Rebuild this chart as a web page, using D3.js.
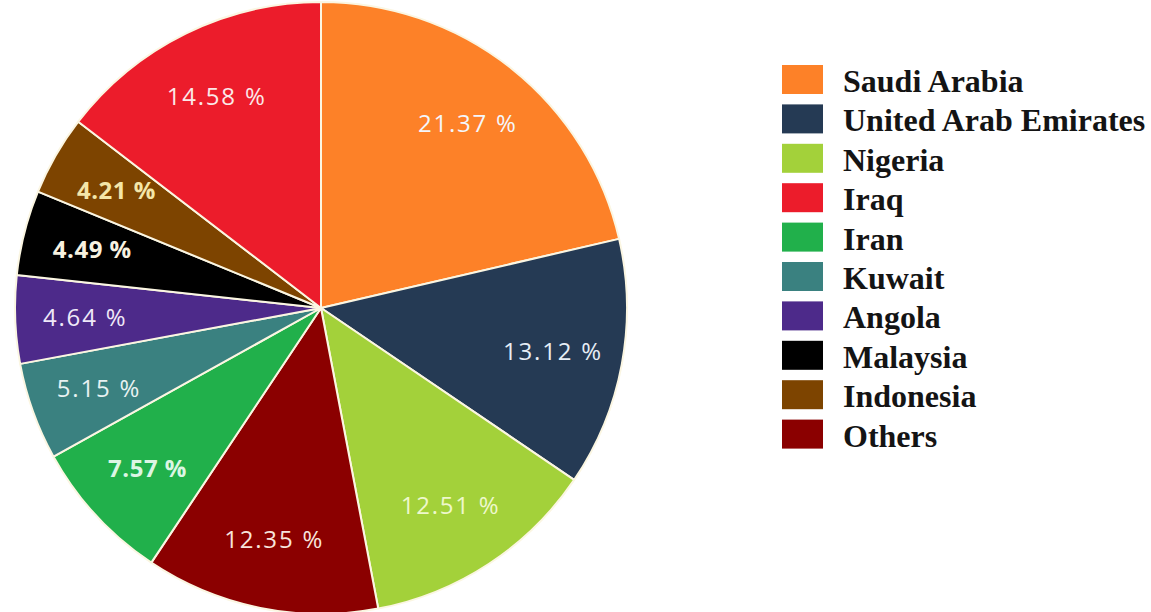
<!DOCTYPE html>
<html>
<head>
<meta charset="utf-8">
<script src="https://cdn.jsdelivr.net/npm/d3@7/dist/d3.min.js"></script>
<style>
  html, body { margin: 0; padding: 0; background: #ffffff; }
  svg { display: block; }
</style>
</head>
<body>
<svg id="chart" width="1151" height="612"></svg>
<script>
// Slices in clockwise order starting at 12 o'clock
const sliceNames = ["Saudi Arabia", "United Arab Emirates", "Nigeria", "Others", "Iran",
                    "Kuwait", "Angola", "Malaysia", "Indonesia", "Iraq"];
const sliceValues = [21.37, 13.12, 12.51, 12.35, 7.57, 5.15, 4.64, 4.49, 4.21, 14.58];

// Legend order
const legendNames = ["Saudi Arabia", "United Arab Emirates", "Nigeria", "Iraq", "Iran",
                     "Kuwait", "Angola", "Malaysia", "Indonesia", "Others"];

const colorRange = ["#fd8128", "#253a54", "#a3d13a", "#ec1c2b", "#21b04b",
                    "#3a8180", "#4d2a8a", "#000000", "#7d4400", "#8b0000"];

const color = d3.scaleOrdinal().domain(legendNames).range(colorRange);

// label tint / weight per slice
const labelFill = {
  "Saudi Arabia": "#f4f6fb", "United Arab Emirates": "#e6edf5", "Nigeria": "#eef8cc",
  "Others": "#f8e4dc", "Iran": "#dcf6e4", "Kuwait": "#e8f2f2", "Angola": "#efe8f8",
  "Malaysia": "#f8f2e0", "Indonesia": "#f4e6a8", "Iraq": "#fbe8e8"
};
const boldLabels = new Set(["Iran", "Malaysia", "Indonesia"]);

const svg = d3.select("#chart");
const cx = 321, cy = 308, R = 306;

const slices = sliceNames.map((n, i) => ({ name: n, value: sliceValues[i] }));

const pie = d3.pie().value(d => d.value).sort(null);
const arc = d3.arc().innerRadius(0).outerRadius(R);
const labelArc = d3.arc().innerRadius(236).outerRadius(236);

const g = svg.append("g").attr("transform", `translate(${cx},${cy})`);
const arcs = pie(slices);

g.selectAll("path.slice")
  .data(arcs)
  .join("path")
  .attr("class", "slice")
  .attr("d", arc)
  .attr("fill", d => color(d.data.name))
  .attr("stroke", "#fbf6e2")
  .attr("stroke-width", 2)
  .attr("stroke-linejoin", "round");

g.selectAll("text.pct")
  .data(arcs)
  .join("text")
  .attr("class", "pct")
  .attr("transform", d => `translate(${labelArc.centroid(d)})`)
  .attr("text-anchor", "middle")
  .attr("dy", "0.36em")
  .attr("font-family", "'Open Sans', 'Noto Sans', sans-serif")
  .attr("font-size", 24)
  .attr("letter-spacing", d => boldLabels.has(d.data.name) ? 0.5 : 1.8)
  .attr("font-weight", d => boldLabels.has(d.data.name) ? 700 : 400)
  .attr("fill", d => labelFill[d.data.name])
  .text(d => d3.format(".2f")(d.data.value) + " %");

// Legend
const legend = svg.append("g").attr("transform", "translate(782,65)");
const rowH = 39.4;
const rows = legend.selectAll("g.row")
  .data(legendNames)
  .join("g")
  .attr("class", "row")
  .attr("transform", (d, i) => `translate(0,${i * rowH})`);

rows.append("rect")
  .attr("width", 41)
  .attr("height", 29)
  .attr("fill", d => color(d));

rows.append("text")
  .attr("x", 61)
  .attr("y", 27)
  .attr("font-family", "'Liberation Serif', 'Times New Roman', serif")
  .attr("font-weight", 700)
  .attr("font-size", 32)
  .attr("fill", "#141414")
  .text(d => d);
</script>
</body>
</html>
